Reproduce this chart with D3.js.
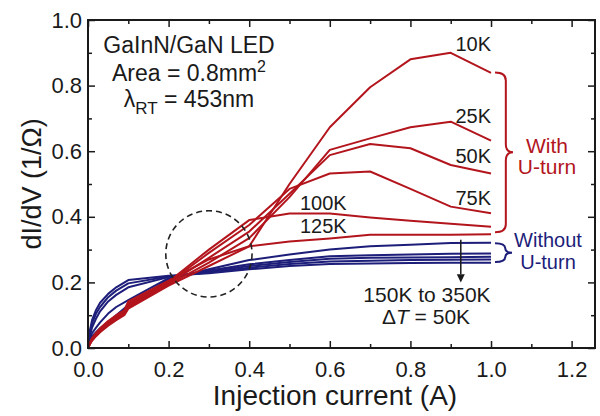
<!DOCTYPE html>
<html>
<head>
<meta charset="utf-8">
<script src="https://cdn.jsdelivr.net/npm/d3@7/dist/d3.min.js"></script>
<style>
    body { margin: 0; background: #fff; }
    svg { display: block; font-family: "Liberation Sans", Arial, sans-serif; }
</style>
</head>
<body>
<div id="chart"></div>
<script>
// dI/dV vs injection current, GaInN/GaN LED at several temperatures

// Red curves (with U-turn), 10K .. 125K
const redX = [0, 0.005, 0.01, 0.02, 0.03, 0.05, 0.07, 0.09, 0.1, 0.2, 0.3, 0.4, 0.5, 0.6, 0.7, 0.8, 0.9, 1.0];
const red10K  = [0, 0.012, 0.022, 0.036, 0.048, 0.068, 0.085, 0.100, 0.120, 0.190, 0.250, 0.310, 0.500, 0.673, 0.795, 0.880, 0.900, 0.839];
const red25K  = [0, 0.013, 0.024, 0.038, 0.050, 0.071, 0.088, 0.103, 0.124, 0.193, 0.260, 0.335, 0.460, 0.604, 0.639, 0.673, 0.690, 0.632];
const red50K  = [0, 0.014, 0.025, 0.040, 0.052, 0.073, 0.091, 0.106, 0.128, 0.196, 0.275, 0.355, 0.470, 0.588, 0.622, 0.609, 0.558, 0.532];
const red75K  = [0, 0.015, 0.027, 0.042, 0.055, 0.076, 0.094, 0.109, 0.132, 0.199, 0.290, 0.375, 0.485, 0.532, 0.538, 0.485, 0.431, 0.411];
const red100K = [0, 0.016, 0.028, 0.044, 0.057, 0.079, 0.097, 0.112, 0.137, 0.202, 0.300, 0.390, 0.410, 0.410, 0.398, 0.388, 0.379, 0.370];
const red125K = [0, 0.017, 0.030, 0.046, 0.060, 0.082, 0.100, 0.115, 0.142, 0.205, 0.270, 0.310, 0.325, 0.334, 0.345, 0.345, 0.345, 0.347];

// Blue curves (without U-turn), 150K .. 350K
const blueX = [0, 0.005, 0.01, 0.02, 0.03, 0.05, 0.07, 0.1, 0.2, 0.3, 0.4, 0.5, 0.6, 0.7, 0.8, 0.9, 1.0];
const blue150K = [0, 0.025, 0.035, 0.048, 0.060, 0.080, 0.100, 0.131, 0.210, 0.240, 0.268, 0.285, 0.300, 0.310, 0.315, 0.320, 0.321];
const blue200K = [0, 0.030, 0.045, 0.062, 0.078, 0.105, 0.125, 0.146, 0.213, 0.236, 0.255, 0.268, 0.280, 0.283, 0.285, 0.287, 0.288];
const blue250K = [0, 0.040, 0.062, 0.090, 0.112, 0.142, 0.162, 0.185, 0.216, 0.233, 0.250, 0.262, 0.272, 0.275, 0.276, 0.277, 0.278];
const blue300K = [0, 0.048, 0.075, 0.105, 0.125, 0.155, 0.175, 0.197, 0.218, 0.230, 0.245, 0.256, 0.264, 0.266, 0.268, 0.269, 0.270];
const blue350K = [0, 0.055, 0.085, 0.116, 0.138, 0.165, 0.185, 0.207, 0.220, 0.228, 0.240, 0.250, 0.256, 0.258, 0.259, 0.260, 0.260];

// Curve labels: [text, x, y, anchor]
const redLabels = [
    ['10K', 1.0, 0.905, 'end'],
    ['25K', 1.0, 0.686, 'end'],
    ['50K', 1.0, 0.564, 'end'],
    ['75K', 1.0, 0.436, 'end'],
    ['100K', 0.526, 0.421, 'start'],
    ['125K', 0.526, 0.351, 'start']
];

const xMajor = [0, 0.2, 0.4, 0.6, 0.8, 1.0, 1.2];
const xMinor = [0.1, 0.3, 0.5, 0.7, 0.9, 1.1];
const yMajor = [0, 0.2, 0.4, 0.6, 0.8, 1.0];
const yMinor = [0.1, 0.3, 0.5, 0.7, 0.9];

const RED = '#b3151d';
const BLUE = '#1d1d7a';
const INK = '#1a1a1a';

const width = 600, height = 416;
const margin = { left: 88, right: 5, top: 20, bottom: 68 };

const svg = d3.select('#chart').append('svg')
    .attr('width', width)
    .attr('height', height);

const x = d3.scaleLinear().domain([0, 1.258]).range([margin.left, width - margin.right]);
const y = d3.scaleLinear().domain([0, 1.0]).range([height - margin.bottom, margin.top]);

const line = d3.line().x(d => x(d[0])).y(d => y(d[1]));

function series(xs, ys) {
    return xs.map((v, i) => [v, ys[i]]);
}

// Curves
const blueSeries = [blue150K, blue200K, blue250K, blue300K, blue350K];
const redSeries = [red10K, red25K, red50K, red75K, red100K, red125K];

blueSeries.forEach(ys => {
    svg.append('path')
        .attr('d', line(series(blueX, ys)))
        .attr('fill', 'none')
        .attr('stroke', BLUE)
        .attr('stroke-width', 2)
        .attr('stroke-linejoin', 'round');
});
redSeries.forEach(ys => {
    svg.append('path')
        .attr('d', line(series(redX, ys)))
        .attr('fill', 'none')
        .attr('stroke', RED)
        .attr('stroke-width', 2)
        .attr('stroke-linejoin', 'round');
});

// Axes with inward ticks
function styleAxis(g) {
    g.select('.domain').remove();
    g.selectAll('.tick line').attr('stroke', INK).attr('stroke-width', 1.5);
    g.selectAll('.tick text').attr('fill', INK).attr('font-size', '22px').attr('font-family', '"Liberation Sans", Arial, sans-serif');
}
const fmt = d3.format('.1f');

svg.append('g').attr('transform', `translate(0,${y(0)})`)
    .call(d3.axisBottom(x).tickValues(xMajor).tickFormat(fmt).tickSize(-7).tickPadding(13)).call(styleAxis);
svg.append('g').attr('transform', `translate(0,${y(0)})`)
    .call(d3.axisBottom(x).tickValues(xMinor).tickFormat('').tickSize(-4)).call(styleAxis);
svg.append('g').attr('transform', `translate(0,${y(1)})`)
    .call(d3.axisTop(x).tickValues(xMajor).tickFormat('').tickSize(-7)).call(styleAxis);
svg.append('g').attr('transform', `translate(0,${y(1)})`)
    .call(d3.axisTop(x).tickValues(xMinor).tickFormat('').tickSize(-4)).call(styleAxis);

svg.append('g').attr('transform', `translate(${x(0)},0)`)
    .call(d3.axisLeft(y).tickValues(yMajor).tickFormat(fmt).tickSize(-7).tickPadding(6)).call(styleAxis);
svg.append('g').attr('transform', `translate(${x(0)},0)`)
    .call(d3.axisLeft(y).tickValues(yMinor).tickFormat('').tickSize(-4)).call(styleAxis);
svg.append('g').attr('transform', `translate(${x.range()[1]},0)`)
    .call(d3.axisRight(y).tickValues(yMajor).tickFormat('').tickSize(-7)).call(styleAxis);
svg.append('g').attr('transform', `translate(${x.range()[1]},0)`)
    .call(d3.axisRight(y).tickValues(yMinor).tickFormat('').tickSize(-4)).call(styleAxis);

// Frame
svg.append('rect')
    .attr('x', x(0))
    .attr('y', y(1))
    .attr('width', x.range()[1] - x(0))
    .attr('height', y(0) - y(1))
    .attr('fill', 'none')
    .attr('stroke', INK)
    .attr('stroke-width', 2);

// Axis titles
svg.append('text')
    .attr('x', 335)
    .attr('y', 405)
    .attr('text-anchor', 'middle')
    .attr('font-size', '28px')
    .attr('fill', INK)
    .text('Injection current (A)');

svg.append('text')
    .attr('transform', `translate(41,${(y(0) + y(1)) / 2}) rotate(-90)`)
    .attr('text-anchor', 'middle')
    .attr('font-size', '27px')
    .attr('fill', INK)
    .text('dI/dV (1/Ω)');

// Device info block
const info = svg.append('g').attr('fill', INK).attr('font-size', '23px').attr('text-anchor', 'middle');
info.append('text').attr('x', 189).attr('y', 53).text('GaInN/GaN LED');
const area = info.append('text').attr('x', 189).attr('y', 81);
area.append('tspan').text('Area = 0.8mm');
area.append('tspan').attr('dy', -9).attr('font-size', '16px').text('2');
const lam = info.append('text').attr('x', 189).attr('y', 107);
lam.append('tspan').text('λ');
lam.append('tspan').attr('dy', 7).attr('font-size', '17px').text('RT');
lam.append('tspan').attr('dy', -7).text(' = 453nm');

// Curve labels
svg.selectAll('.curve-label')
    .data(redLabels)
    .enter()
    .append('text')
    .attr('class', 'curve-label')
    .attr('x', d => x(d[1]))
    .attr('y', d => y(d[2]))
    .attr('text-anchor', d => d[3])
    .attr('font-size', '20px')
    .attr('fill', INK)
    .text(d => d[0]);

// Curly braces
function brace(x0, yTop, yBot, w, r) {
    const xm = x0 + w * 0.6;
    const ym = (yTop + yBot) / 2;
    const p = d3.path();
    p.moveTo(x0, yTop);
    p.quadraticCurveTo(xm, yTop, xm, yTop + r);
    p.lineTo(xm, ym - r);
    p.quadraticCurveTo(xm, ym, x0 + w, ym);
    p.quadraticCurveTo(xm, ym, xm, ym + r);
    p.lineTo(xm, yBot - r);
    p.quadraticCurveTo(xm, yBot, x0, yBot);
    return p.toString();
}

svg.append('path')
    .attr('d', brace(x(1.0) + 4, y(0.84), y(0.353), 18, 8))
    .attr('fill', 'none')
    .attr('stroke', RED)
    .attr('stroke-width', 2);
svg.append('path')
    .attr('d', brace(x(1.0) + 4, y(0.319), y(0.262), 17, 5))
    .attr('fill', 'none')
    .attr('stroke', BLUE)
    .attr('stroke-width', 2);

const withG = svg.append('g').attr('fill', RED).attr('font-size', '21px').attr('text-anchor', 'middle');
withG.append('text').attr('x', 547).attr('y', 153).text('With');
withG.append('text').attr('x', 547).attr('y', 174).text('U-turn');

const withoutG = svg.append('g').attr('fill', BLUE).attr('font-size', '20px').attr('text-anchor', 'middle');
withoutG.append('text').attr('x', 548).attr('y', 247).text('Without');
withoutG.append('text').attr('x', 548).attr('y', 269).text('U-turn');

// Arrow pointing down through the high-temperature curves
const ax = x(0.925);
svg.append('line')
    .attr('x1', ax).attr('x2', ax)
    .attr('y1', y(0.33)).attr('y2', y(0.225))
    .attr('stroke', INK)
    .attr('stroke-width', 1.5);
svg.append('path')
    .attr('d', `M${ax - 4},${y(0.225)} L${ax + 4},${y(0.225)} L${ax},${y(0.2)} Z`)
    .attr('fill', INK);

const tempG = svg.append('g').attr('fill', INK).attr('font-size', '21px').attr('text-anchor', 'middle');
tempG.append('text').attr('x', 427).attr('y', 302).text('150K to 350K');
const dT = tempG.append('text').attr('x', 426).attr('y', 324);
dT.append('tspan').text('Δ');
dT.append('tspan').attr('font-style', 'italic').text('T');
dT.append('tspan').text(' = 50K');

// Dashed circle around the crossing region
svg.append('circle')
    .attr('cx', x(0.3))
    .attr('cy', y(0.287))
    .attr('r', x(0.107) - x(0))
    .attr('fill', 'none')
    .attr('stroke', '#222')
    .attr('stroke-width', 1.6)
    .attr('stroke-dasharray', '6,4');
</script>
</body>
</html>
